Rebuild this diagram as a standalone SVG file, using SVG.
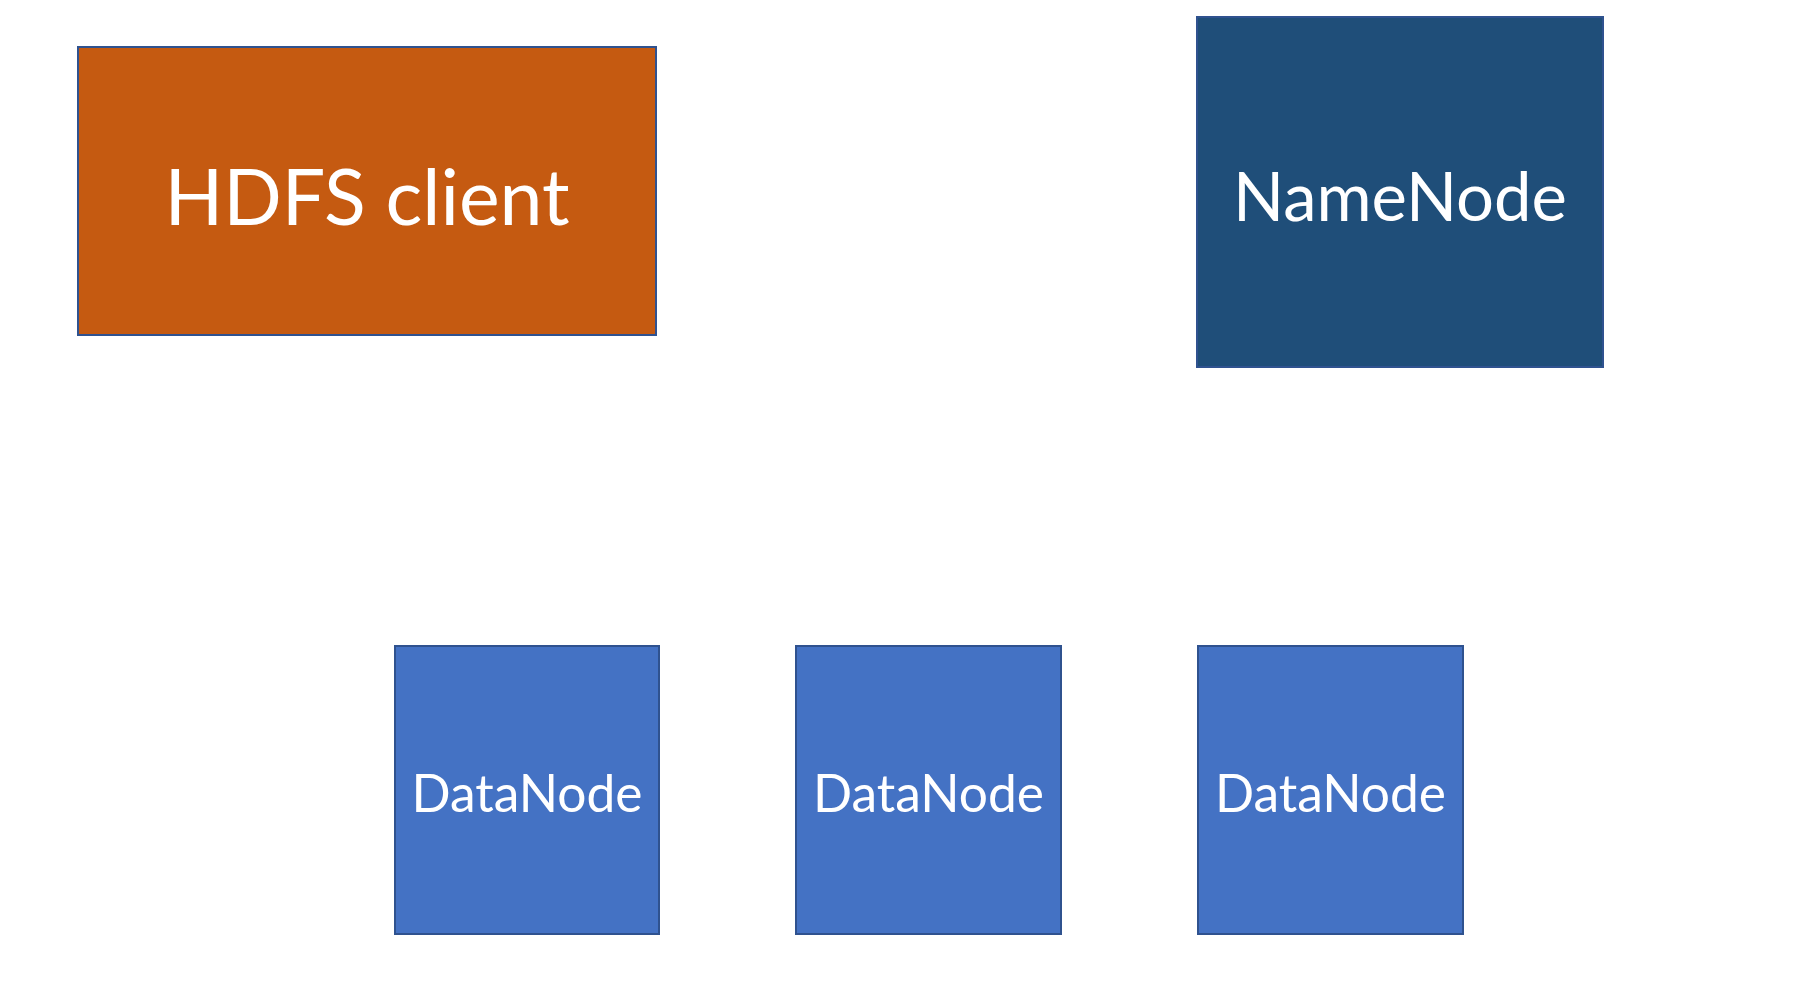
<svg xmlns="http://www.w3.org/2000/svg" width="1808" height="1008" viewBox="0 0 1808 1008">
<style>
.box{stroke:#2F528F;stroke-width:2}
.lbl{font-family:Lato,"Liberation Sans",sans-serif;fill:#FFFFFF;text-anchor:middle}
</style>
<rect width="1808" height="1008" fill="#FFFFFF"/>
<g id="hdfs-client">
<rect class="box" x="78" y="47" width="578" height="288" fill="#C55A11"/>
<text class="lbl" x="367" y="225" font-size="77">HDFS client</text>
</g>
<g id="namenode">
<rect class="box" x="1197" y="17" width="406" height="350" fill="#1F4E79"/>
<text class="lbl" x="1400" y="221" font-size="67">NameNode</text>
</g>
<g id="datanode-1">
<rect class="box" x="395" y="646" width="264" height="288" fill="#4472C4"/>
<text class="lbl" x="527" y="812" font-size="51.5">DataNode</text>
</g>
<g id="datanode-2">
<rect class="box" x="796" y="646" width="265" height="288" fill="#4472C4"/>
<text class="lbl" x="928.5" y="812" font-size="51.5">DataNode</text>
</g>
<g id="datanode-3">
<rect class="box" x="1198" y="646" width="265" height="288" fill="#4472C4"/>
<text class="lbl" x="1330.5" y="812" font-size="51.5">DataNode</text>
</g>
<g id="connectors"></g>
</svg>
